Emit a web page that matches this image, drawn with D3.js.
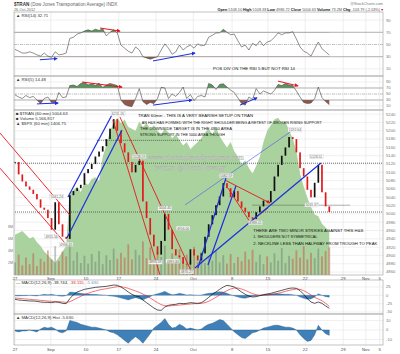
<!DOCTYPE html>
<html lang="en">
<head>
<meta charset="UTF-8">
<script src="https://d3js.org/d3.v7.min.js"></script>
<title>$TRAN 60 min</title>
<style>
  body { margin: 0; background: #fff; }
</style>
</head>
<body>
<div id="chart"></div>
<script>
// ---- data (one value every half trading day, from Aug 27) ----
const closes = [
  5125, 5095, 5078, 5066, 5058, 5048, 5035, 5015, 5010, 4990,
  4962, 5028, 4975, 4945, 4940, 5045, 5055, 5062, 5070, 5098,
  5108, 5120, 5138, 5150, 5163, 5180, 5205, 5228, 5200, 5170,
  5148, 5125, 5100, 5118, 5128, 5030, 4990, 4950, 4922, 4902,
  4935, 5000, 4962, 4915, 4900, 4896, 4880, 4878, 4915, 4900,
  4888, 4905, 4945, 4975, 4997, 5021, 5042, 5074, 5062, 5040,
  5055, 5030, 5015, 5005, 4992, 4988, 5004, 5018, 5032, 5028,
  5055, 5090, 5118, 5140, 5160, 5185, 5180, 5148, 5110, 5090,
  5058, 5040, 5075, 5118, 5052, 5018, 5004.63
];
const spx = [
  1410, 1411, 1412, 1410, 1408, 1409, 1406, 1404, 1401, 1399,
  1397, 1395, 1398, 1401, 1404, 1433, 1434, 1436, 1433, 1438,
  1437, 1440, 1441, 1439, 1452, 1458, 1466, 1470, 1473, 1470,
  1472, 1468, 1467, 1466, 1471, 1468, 1470, 1467, 1469, 1466,
  1464, 1467, 1465, 1462, 1464, 1461, 1458, 1460, 1456, 1458,
  1460, 1462, 1465, 1467, 1464, 1468, 1463, 1460, 1457, 1460,
  1455, 1452, 1448, 1450, 1446, 1443, 1447, 1452, 1460, 1466,
  1469, 1472, 1473, 1470, 1471, 1466, 1462, 1455, 1443, 1436,
  1430, 1425, 1421, 1420, 1416, 1414, 1412
];
const volume = [
  2.1, 3.4, 1.6, 2.9, 1.8, 3.6, 1.5, 2.7, 2.2, 4.1,
  2.6, 4.8, 2.3, 3.9, 3.1, 5.4, 2.4, 3.8, 2.0, 3.2,
  1.9, 3.5, 2.2, 4.0, 1.8, 3.3, 2.5, 4.4, 2.7, 3.7,
  2.9, 5.1, 2.6, 4.2, 3.3, 5.6, 2.8, 4.6, 2.5, 3.9,
  3.0, 4.9, 2.3, 3.6, 2.6, 4.3, 2.1, 3.4, 2.4, 4.7,
  2.2, 3.8, 2.0, 3.1, 2.4, 4.0, 2.1, 3.3, 1.9, 3.5,
  2.0, 3.0, 2.3, 3.9, 2.6, 4.2, 2.2, 3.4, 1.8, 3.1,
  2.1, 3.6, 2.4, 4.5, 2.0, 3.2, 2.7, 4.1, 2.9, 4.8,
  2.6, 3.7, 2.8, 4.4, 3.1, 4.0, 4.6
];
const rsi14 = [
  42, 39, 36, 36, 38, 36, 33, 31, 36, 31,
  29, 38, 33, 34, 36, 60, 62, 67, 69, 72,
  74, 72, 75, 73, 76, 64, 70, 74, 69, 49,
  44, 39, 36, 46, 41, 30, 28, 26, 28, 30,
  41, 51, 44, 34, 38, 49, 41, 46, 49, 44,
  51, 48, 49, 62, 65, 69, 69, 75, 70, 66,
  67, 56, 46, 49, 41, 52, 48, 56, 48, 54,
  56, 62, 69, 66, 69, 69, 71, 59, 46, 39,
  36, 31, 43, 54, 43, 38, 32.71
];
const rsi5 = [
  47, 40, 35, 45, 38, 42, 30, 18, 35, 40,
  22, 20, 55, 38, 40, 78, 80, 75, 85, 88,
  80, 84, 78, 86, 72, 80, 85, 82, 78, 30,
  15, 10, 8, 35, 68, 25, 15, 22, 18, 35,
  72, 70, 35, 50, 42, 55, 73, 35, 48, 28,
  42, 45, 40, 85, 80, 65, 82, 84, 73, 63,
  55, 37, 18, 13, 40, 32, 68, 50, 60, 55,
  50, 62, 82, 78, 85, 80, 78, 60, 40, 22,
  18, 20, 35, 73, 38, 25, 14.48
];
const macdLine = [
  -12, -14, -15, -16, -17, -17, -18, -20, -21, -21,
  -22, -20, -21, -24, -25, -10, 2, 10, 14, 18,
  20, 22, 24, 25, 26, 27, 29, 31, 30, 25,
  18, 10, 3, -2, -4, -14, -22, -30, -38, -44,
  -45, -35, -30, -28, -27, -24, -25, -24, -22, -23,
  -24, -22, -15, -6, 3, 10, 18, 25, 30, 28,
  25, 18, 10, 3, -2, -5, -4, -1, 2, 4,
  6, 9, 12, 15, 18, 21, 22, 21, 14, 3,
  -10, -20, -24, -20, -24, -32, -38.744
];
const signalLine = [
  -8, -9, -10, -11, -12, -13, -14, -15, -16, -17,
  -18, -18.5, -19, -20, -21, -19, -14, -8, -3, 2,
  6, 10, 13, 16, 18, 20, 22, 24, 26, 26,
  24, 21, 17, 13, 9, 4, -2, -8, -15, -22,
  -28, -31, -32, -31, -30, -29, -28, -27, -26, -25,
  -25, -24, -22, -18, -12, -6, 1, 8, 14, 19,
  22, 22, 19, 15, 10, 5, 2, 0, 0, 1,
  2, 4, 6, 9, 12, 15, 17, 19, 18, 14,
  8, 1, -6, -11, -16, -24, -33.115
];
const macdHist = [
  -1, -2, -1, -1, 0, -1, -2, 1, 3, 2,
  3, 1, -2, -3, -1, 10, 9, 8, 6, 5,
  4, 3, 3, 2, 1, 0, -2, -3, -5, -8,
  -11, -14, -10, -7, -10, -14, -9, -4, 2, 5,
  8, 12, 6, 2, 3, 6, 4, 1, 2, 1,
  0, 1, 4, 6, 7, 9, 11, 10, 6, 2,
  -2, -5, -8, -9, -6, -3, -2, 0, 2, 3,
  4, 5, 5, 4, 3, 3, 2, 0, -5, -9,
  -12, -11, -5, 5, 0, -4, -5.63
];

// axis ticks
const tickDays = [0, 4.9, 9.7, 14.2, 19.3, 24.4, 29.7, 34.6, 39.7, 44.9, 48, 49.9];
const tickLabels = ["27", "Sep", "10", "17", "24", "Oct", "8", "15", "22", "29", "Nov", "5"];
const priceTicks = [4860, 4880, 4900, 4920, 4940, 4960, 4980, 5000, 5020, 5040,
                    5060, 5080, 5100, 5120, 5140, 5160, 5180, 5200, 5220, 5240];
const rsiTicks = [90, 70, 50, 30, 10];
const volTicks = [2, 4, 6, 8];
const macdTicks = [25, 0, -25, -50];
const histTicks = [10, 0, -10];

// price labels on swing highs / lows (day, value)
const highLabelDays = [5.7, 14.1, 17, 20.5, 23, 28.9, 38.3, 41.2];
const highLabelValues = [5031.24, 5231.05, 5128.59, 5004.45, 4956.00, 5082.59, 5192.64, 5128.51];
const lowLabelDays = [5.0, 7.0, 19.2, 21.6, 23.5, 32.9, 40.6];
const lowLabelValues = [4955.56, 4936.45, 4893.59, 4895.84, 4870.27, 4988.41, 5031.37];

// dotted support / resistance levels
const levelValues = [5177, 5122, 5021, 5004.5];
const levelFrom = [11.2, 0, 32.5, 0];
const levelTo = [25.6, 50.35, 45.8, 50.35];

// hand drawn trend lines [day1, price1, day2, price2]
const redLines = [
  [-2.05, 5194.5, 7.52, 4997], [-2.05, 5110, 6.84, 4930],
  [13.41, 5225.8, 19.84, 4853], [14.36, 5233, 24.35, 4853],
  [29.14, 5062.2, 32.15, 4980.5], [32.15, 4980.5, 34.61, 5014]
];
const redArrowLines = [[28.73, 5081.5, 34.88, 5026.2]];
const blueLines = [
  [7.25, 5040.6, 13.41, 5242.6], [7.11, 4942, 14.64, 5201.7],
  [24.62, 4869.8, 41.86, 5122.4], [25.03, 4869.8, 28.86, 5086.3],
  [26.4, 4877, 30.23, 5067]
];
const thinBlueLines = [[23.26, 5021.4, 38.03, 5201.7]];
// divergence arrows [day1, rsi1, day2, rsi2]
const rsi14Red = [[11.63, 77, 14.36, 72]];
const rsi14Blue = [[3.4, 25, 5.75, 27], [18.88, 23, 24.62, 36]];
const rsi5Red = [[9.17, 90, 14.64, 73], [35.98, 93, 38.71, 77]];
const rsi5Blue = [[3.0, 17, 5.9, 20], [18.88, 13, 24.2, 30], [30.78, 13, 33.1, 37]];

const noteLines = [
  "TRAN 60min - THIS IS A VERY BEARISH SETUP ON TRAN",
  "AN H&S HAS FORMED WITH THE RIGHT SHOULDER BEING A RETEST OF BROKEN RISING SUPPORT",
  "THE DOWNSIDE TARGET IS IN THE 4850 AREA",
  "STRONG SUPPORT IN THE 5000 AREA THOUGH"
];
const strikeLines = [
  "THERE ARE TWO MINOR STRIKES AGAINST THIS H&S",
  "1. SHOULDERS NOT SYMMETRICAL",
  "2. NECKLINE LESS THAN HALFWAY FROM TROUGH TO PEAK"
];

// ---- layout ----
const left = 14, right = 383;
const rsi14Box = [12, 76], rsi5Box = [76, 110], mainBox = [110, 275], macdBox = [280, 314], histBox = [314, 345];

const x = d3.scaleLinear().domain([0, 50.35]).range([15, right]);
const yR14 = d3.scaleLinear().domain([0, 100]).range([75, 14]);
const yR5 = d3.scaleLinear().domain([0, 100]).range([109, 79]);
const yP = d3.scaleLinear().domain([4853, 5250]).range([275, 110]);
const yS = d3.scaleLinear().domain([1390, 1475]).range([272, 114]);
const yV = d3.scaleLinear().domain([0, 8]).range([275, 227]);
const yM = d3.scaleLinear().domain([-50, 25]).range([312, 287]);
const yH = d3.scaleLinear().domain([-10, 10]).range([339.5, 320.5]);
const day = i => i * 0.5;

const font = "'Liberation Sans', Arial, sans-serif";
const svg = d3.select("#chart").append("svg")
    .attr("width", 400).attr("height", 354)
    .style("font-family", font);
svg.append("rect").attr("width", 400).attr("height", 354).attr("fill", "#fff");

const defs = svg.append("defs");
[["arrRed", "#e8141c"], ["arrBlue", "#1c2ee0"]].forEach(([id, c]) => {
  defs.append("marker").attr("id", id).attr("viewBox", "0 0 10 10")
      .attr("refX", 8).attr("refY", 5).attr("markerWidth", 4).attr("markerHeight", 4)
      .attr("orient", "auto")
    .append("path").attr("d", "M0,0L10,5L0,10z").attr("fill", c);
});
function clip(id, x0, y0, x1, y1) {
  defs.append("clipPath").attr("id", id).append("rect")
      .attr("x", x0).attr("y", y0).attr("width", x1 - x0).attr("height", y1 - y0);
  return `url(#${id})`;
}

// panel frame with vertical grid, horizontal grid and right labels
function frame(box, ticks, y, fmt) {
  const g = svg.append("g");
  g.selectAll(".vg").data(tickDays).join("line")
      .attr("x1", d => x(d)).attr("x2", d => x(d))
      .attr("y1", box[0]).attr("y2", box[1])
      .attr("stroke", "#e2e2e2").attr("stroke-width", 0.6);
  g.selectAll(".hg").data(ticks).join("line")
      .attr("x1", left).attr("x2", right)
      .attr("y1", d => y(d)).attr("y2", d => y(d))
      .attr("stroke", "#e6e6e6").attr("stroke-width", 0.6);
  g.selectAll(".tl").data(ticks).join("text")
      .attr("x", right + 3).attr("y", d => y(d) + 1.4)
      .attr("font-size", 4.2).attr("fill", "#777")
      .text(fmt);
  return g;
}
function border(box) {
  svg.append("rect").attr("x", left).attr("y", box[0])
      .attr("width", right - left).attr("height", box[1] - box[0])
      .attr("fill", "none").attr("stroke", "#9a9a9a").attr("stroke-width", 0.6);
}
function panelLabel(yy, parts) {
  const t = svg.append("text").attr("x", left + 2).attr("y", yy)
      .attr("font-size", 4.3).attr("fill", "#333");
  parts.forEach(([s, c]) => t.append("tspan").attr("fill", c).text(s));
}
function segs(g, list, yScale, color, width, arrow) {
  g.selectAll(null).data(list).join("line")
      .attr("x1", d => x(d[0])).attr("y1", d => yScale(d[1]))
      .attr("x2", d => x(d[2])).attr("y2", d => yScale(d[3]))
      .attr("stroke", color).attr("stroke-width", width)
      .attr("marker-end", arrow ? `url(#${arrow})` : null);
}

// ---- header ----
const h1 = svg.append("text").attr("x", left).attr("y", 6).attr("font-size", 4.6).attr("fill", "#333");
h1.append("tspan").attr("font-weight", "bold").text("$TRAN");
h1.append("tspan").attr("fill", "#666").text(" (Dow Jones Transportation Average) INDX");
svg.append("text").attr("x", right).attr("y", 4.5).attr("text-anchor", "end")
    .attr("font-size", 3.8).attr("fill", "#777").text("@StockCharts.com");
svg.append("text").attr("x", left).attr("y", 10.8).attr("font-size", 3.8).attr("fill", "#666").text("26-Oct-2012");
const h2 = svg.append("text").attr("x", right - 3).attr("y", 10.8).attr("text-anchor", "end")
    .attr("font-size", 3.8).attr("fill", "#555");
[["Open ", 1], ["5108.10  ", 0], ["High ", 1], ["5108.38  ", 0], ["Low ", 1], ["4986.72  ", 0],
 ["Close ", 1], ["5004.63  ", 0], ["Volume ", 1], ["73.2M  ", 0], ["Chg ", 1], ["-103.79 (-2.03%)", 0]]
  .forEach(([s, b]) => h2.append("tspan").attr("font-weight", b ? "bold" : null).attr("fill", b ? "#111" : "#555").text(s));
svg.append("text").attr("x", right - 2.5).attr("y", 10.8).attr("font-size", 3.4).attr("fill", "#d00").text("▼");

// ---- RSI panels ----
function rsiPanel(box, vals, y, clipId, redArrows, blueArrows) {
  const g = frame(box, rsiTicks, y, d => d);
  g.selectAll(".lv").data([70, 30]).join("line")
      .attr("x1", left).attr("x2", right).attr("y1", d => y(d)).attr("y2", d => y(d))
      .attr("stroke", "#8c8c8c").attr("stroke-width", 0.6);
  g.append("line").attr("x1", left).attr("x2", right).attr("y1", y(50)).attr("y2", y(50))
      .attr("stroke", "#999").attr("stroke-width", 0.5).attr("stroke-dasharray", "3,1,1,1");
  const hi = clip(clipId + "hi", left, box[0], right, y(70));
  const lo = clip(clipId + "lo", left, y(30), right, box[1]);
  g.append("path").datum(vals).attr("clip-path", hi).attr("fill", "#5f9260")
      .attr("d", d3.area().x((d, i) => x(day(i))).y0(y(70)).y1(d => y(d)));
  g.append("path").datum(vals).attr("clip-path", lo).attr("fill", "#8e5a4e")
      .attr("d", d3.area().x((d, i) => x(day(i))).y0(y(30)).y1(d => y(d)));
  g.append("path").datum(vals).attr("fill", "none").attr("stroke", "#444").attr("stroke-width", 0.6)
      .attr("d", d3.line().x((d, i) => x(day(i))).y(d => y(d)));
  segs(g, redArrows, y, "#e8141c", 1, "arrRed");
  segs(g, blueArrows, y, "#1c2ee0", 1, "arrBlue");
  border(box);
}
rsiPanel(rsi14Box, rsi14, yR14, "c14", rsi14Red, rsi14Blue);
panelLabel(16.5, [["▲ RSI(14) 32.71", "#333"]]);
svg.append("text").attr("x", 213).attr("y", 69.5).attr("font-size", 4).attr("fill", "#111")
    .attr("textLength", 82).attr("lengthAdjust", "spacingAndGlyphs")
    .text("POS DIV ON THE RSI 5 BUT NOT RSI 14");
rsiPanel(rsi5Box, rsi5, yR5, "c5", rsi5Red, rsi5Blue);
panelLabel(81, [["▲ RSI(5) 14.48", "#333"]]);

// ---- main price panel ----
const gm = frame(mainBox, priceTicks, yP, d => d);
const mainClip = clip("cmain", left, mainBox[0], right, mainBox[1]);
const inner = gm.append("g").attr("clip-path", mainClip);
inner.append("path").datum(spx).attr("fill", "#a9d29e")
    .attr("d", d3.area().x((d, i) => x(day(i))).y0(mainBox[1]).y1(d => yS(d)));
inner.selectAll(".vol").data(volume).join("rect")
    .attr("x", (d, i) => x(day(i)) - 0.9).attr("width", 1.8)
    .attr("y", d => yV(d)).attr("height", d => yV(0) - yV(d))
    .attr("fill", (d, i) => (i && closes[i] < closes[i - 1]) ? "rgba(200,84,70,0.5)" : "rgba(105,105,105,0.4)");
inner.selectAll(".lvl").data(levelValues).join("line")
    .attr("x1", (d, i) => x(levelFrom[i])).attr("x2", (d, i) => x(levelTo[i]))
    .attr("y1", d => yP(d)).attr("y2", d => yP(d))
    .attr("stroke", "#333").attr("stroke-width", 0.7).attr("stroke-dasharray", "1,1");
inner.selectAll(".cdl").data(closes).join("rect")
    .attr("x", (d, i) => x(day(i)) - 0.85).attr("width", 1.7)
    .attr("y", (d, i) => yP(Math.max(d, i ? closes[i - 1] : d)))
    .attr("height", (d, i) => Math.max(0.8, Math.abs(yP(d) - yP(i ? closes[i - 1] : d))))
    .attr("fill", (d, i) => (i && d < closes[i - 1]) ? "#e3191c" : "#111");

// volume axis (left)
svg.selectAll(".vt").data(volTicks).join("text")
    .attr("x", left - 1).attr("y", d => yV(d) + 1.4).attr("text-anchor", "end")
    .attr("font-size", 3.6).attr("fill", "#777").text(d => d + "M");

// watermark
svg.append("text").attr("x", 148).attr("y", 160).attr("font-size", 7.4)
    .attr("font-family", "'DejaVu Serif', serif").attr("fill", "#d4d4d4").attr("stroke", "#9c9c9c").attr("stroke-width", 0.2)
    .attr("textLength", 96).attr("lengthAdjust", "spacingAndGlyphs").text("www.channelsandpatterns.com");
svg.append("text").attr("x", 154).attr("y", 169.5).attr("font-size", 7.4)
    .attr("font-family", "'DejaVu Serif', serif").attr("fill", "#d4d4d4").attr("stroke", "#9c9c9c").attr("stroke-width", 0.2)
    .attr("textLength", 71).attr("lengthAdjust", "spacingAndGlyphs").text("twitter: @ShaunDowney");

// trend lines
const ga = svg.append("g");
segs(ga, redLines, yP, "#e8141c", 0.9);
segs(ga, redArrowLines, yP, "#e8141c", 0.9, "arrRed");
segs(ga, thinBlueLines, yP, "#4a55ee", 0.6);
segs(ga, blueLines, yP, "#1c2ee0", 1.2);

// swing labels
function swingLabels(days, vals, dy) {
  const g = svg.append("g");
  const sel = g.selectAll("g").data(vals).join("g")
      .attr("transform", (d, i) => `translate(${x(days[i])},${yP(d) + dy})`);
  sel.append("rect").attr("x", -7).attr("y", -2.1).attr("width", 14).attr("height", 4.2)
      .attr("fill", "#fff").attr("fill-opacity", 0.85).attr("stroke", "#bbb").attr("stroke-width", 0.3);
  sel.append("text").attr("text-anchor", "middle").attr("y", 1.3)
      .attr("font-size", 3.4).attr("fill", "#666").text(d => d.toFixed(2));
}
swingLabels(highLabelDays, highLabelValues, -4);
swingLabels(lowLabelDays, lowLabelValues, 4);

// notes
const noteX = [138, 141.7, 140, 140], noteY = [117, 123.5, 129.5, 135.5], noteW = [115, 180, 92, 85];
svg.selectAll(".note").data(noteLines).join("text")
    .attr("x", (d, i) => noteX[i]).attr("y", (d, i) => noteY[i])
    .attr("font-size", 4.3).attr("fill", "#111")
    .attr("textLength", (d, i) => noteW[i]).attr("lengthAdjust", "spacingAndGlyphs")
    .text(d => d);
const strikeY = [231.5, 238, 244.5], strikeW = [110, 64, 124];
svg.selectAll(".strike").data(strikeLines).join("text")
    .attr("x", 253.3).attr("y", (d, i) => strikeY[i])
    .attr("font-size", 4.3).attr("fill", "#111")
    .attr("textLength", (d, i) => strikeW[i]).attr("lengthAdjust", "spacingAndGlyphs")
    .text(d => d);

border(mainBox);
panelLabel(114.5, [["■ $TRAN (60 min) 5004.63", "#333"]]);
panelLabel(119.5, [["■ Volume 5,566,817", "#333"]]);
panelLabel(124.5, [["▲ $SPX (60 min) 1406.75", "#333"]]);

// x labels
function xLabels(yy) {
  svg.selectAll(null).data(tickLabels).join("text")
      .attr("x", (d, i) => x(tickDays[i])).attr("y", yy).attr("text-anchor", "middle")
      .attr("font-size", 4.2).attr("fill", "#444").text(d => d);
}
xLabels(279.5);

// ---- MACD panel ----
const gmac = frame(macdBox, macdTicks, yM, d => d);
const macClip = clip("cmac", left, macdBox[0], right, macdBox[1]);
const gmi = gmac.append("g").attr("clip-path", macClip);
gmi.append("path").datum(macdHist).attr("fill", "#3f80b8").attr("stroke", "#2a628f").attr("stroke-width", 0.3)
    .attr("d", d3.area().x((d, i) => x(day(i))).y0(yM(0)).y1(d => yM(d)));
gmi.append("path").datum(signalLine).attr("fill", "none").attr("stroke", "#e8141c").attr("stroke-width", 0.6)
    .attr("d", d3.line().x((d, i) => x(day(i))).y(d => yM(d)));
gmi.append("path").datum(macdLine).attr("fill", "none").attr("stroke", "#111").attr("stroke-width", 0.7)
    .attr("d", d3.line().x((d, i) => x(day(i))).y(d => yM(d)));
border(macdBox);
panelLabel(284, [["— MACD(12,26,9) -38.744, ", "#333"], ["-33.115, ", "#e8141c"], ["-5.630", "#6a8fd0"]]);

// ---- MACD histogram panel ----
const gh = frame(histBox, histTicks, yH, d => d);
const hClip = clip("chist", left, histBox[0], right, histBox[1]);
gh.append("g").attr("clip-path", hClip).append("path").datum(macdHist)
    .attr("fill", "#3f80b8").attr("stroke", "#24557f").attr("stroke-width", 0.4)
    .attr("d", d3.area().x((d, i) => x(day(i))).y0(yH(0)).y1(d => yH(d)));
border(histBox);
panelLabel(318.5, [["▲ MACD(12,26,9) Hist -5.630", "#333"]]);
xLabels(350.5);
</script>
</body>
</html>
